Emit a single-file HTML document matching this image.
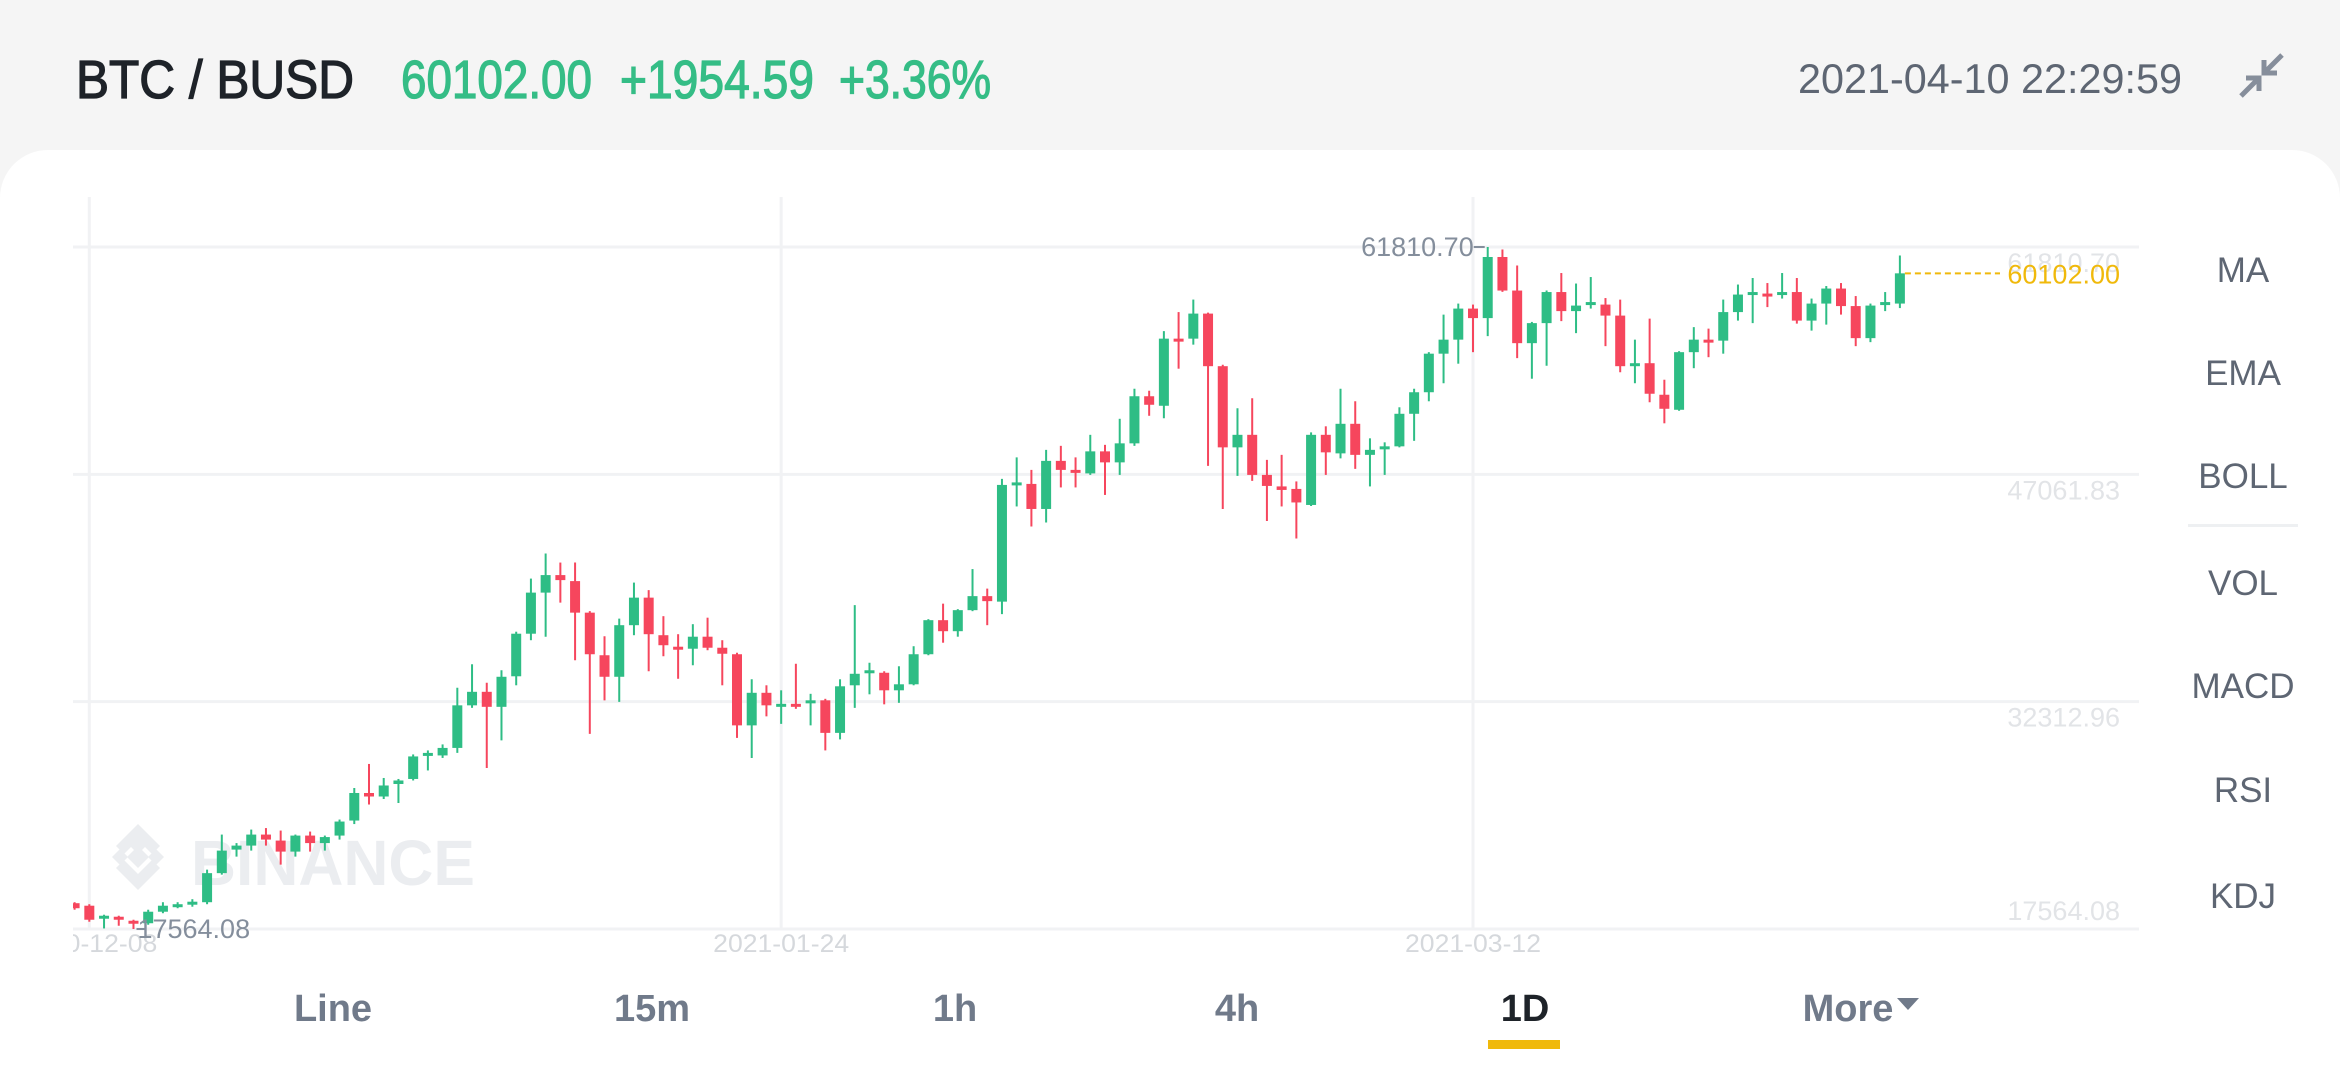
<!DOCTYPE html>
<html><head><meta charset="utf-8"><style>
html,body{margin:0;padding:0;background:#f5f5f5;overflow:hidden;}
svg{display:block;font-family:"Liberation Sans",Arial,sans-serif;}
</style></head><body>
<svg id="root" width="2340" height="1080" viewBox="0 0 2340 1080" xmlns="http://www.w3.org/2000/svg">
  <rect x="0" y="0" width="2340" height="1080" fill="#f5f5f5"/>
  <text x="76" y="98" font-size="54" fill="#1e2329" stroke="#1e2329" stroke-width="1.3" textLength="278" lengthAdjust="spacingAndGlyphs">BTC / BUSD</text>
  <text x="401" y="98" font-size="54" fill="#35bd86" stroke="#35bd86" stroke-width="1.3" textLength="191" lengthAdjust="spacingAndGlyphs">60102.00</text>
  <text x="620" y="98" font-size="54" fill="#35bd86" stroke="#35bd86" stroke-width="1.3" textLength="194" lengthAdjust="spacingAndGlyphs">+1954.59</text>
  <text x="839" y="98" font-size="54" fill="#35bd86" stroke="#35bd86" stroke-width="1.3" textLength="152" lengthAdjust="spacingAndGlyphs">+3.36%</text>
  <text x="1798" y="93" font-size="42" fill="#5e6673" textLength="384" lengthAdjust="spacingAndGlyphs">2021-04-10 22:29:59</text>
  <g stroke="#868e9b" stroke-width="5" fill="none">
    <line x1="2282" y1="55" x2="2266" y2="71"/>
    <polyline points="2264,60 2264,73 2277,73"/>
    <line x1="2241" y1="96" x2="2257" y2="80"/>
    <polyline points="2246,78 2259,78 2259,91"/>
  </g>
  <path d="M0,198 A48,48 0 0 1 48,150 L2292,150 A48,48 0 0 1 2340,198 L2340,1080 L0,1080 Z" fill="#ffffff"/>

  <g id="grid"></g>
  <g fill="#ebedf0">
    <polygon points="138,826 152,840 138,854 124,840" />
    <polygon points="138,846 149,857 138,868 127,857" />
    <polygon points="112,857 120,849 128,857 120,865" />
    <polygon points="148,857 156,849 164,857 156,865" />
    <polygon points="138,874 152,860 160,868 138,890 116,868 124,860" />
    <polygon points="138,824 160,846 152,854 138,840 124,854 116,846" />
    <text x="191" y="885" font-size="64" font-weight="bold" textLength="284" lengthAdjust="spacingAndGlyphs">BINANCE</text>
  </g>
  <g id="candles"></g>
  <g id="labels"></g>

  <g font-size="35" fill="#5e6673" text-anchor="middle">
    <text x="2243" y="282">MA</text>
    <text x="2243" y="385">EMA</text>
    <text x="2243" y="488">BOLL</text>
    <rect x="2188" y="524" width="110" height="3" fill="#eef0f2"/>
    <text x="2243" y="595">VOL</text>
    <text x="2243" y="698">MACD</text>
    <text x="2243" y="802">RSI</text>
    <text x="2243" y="908">KDJ</text>
  </g>

  <g font-size="38" font-weight="bold" fill="#707a8a" text-anchor="middle">
    <text x="333" y="1021">Line</text>
    <text x="652" y="1021">15m</text>
    <text x="955" y="1021">1h</text>
    <text x="1237" y="1021">4h</text>
    <text x="1525" y="1021" fill="#1e2329">1D</text>
    <text x="1848" y="1021">More</text>
    <polygon points="1897,998 1919,998 1908,1010" fill="#707a8a"/>
    <rect x="1488" y="1040" width="72" height="9" fill="#f0b90b"/>
  </g>
</svg>
<script>
const yTicks = [61810.70, 47061.83, 32312.96, 17564.08];
const xTickLabels = ['2020-12-08', '2021-01-24', '2021-03-12'];
const startDate = '2020-12-07';
const lastPrice = 60102.00;
const maxPrice = 61810.70;
const minPrice = 17564.08;
const opens = [19238,19075,18262,18360,18100,17938,18685,19010,19172,19302,
21188,22715,22975,23690,23300,22585,23625,23138,23625,24600,
26388,26160,26972,27298,28825,28825,29312,32075,32952,31978,
33960,36722,39388,40525,40135,38088,35325,33928,37275,39062,
36625,35878,35748,36528,35812,35390,30775,32888,32075,32172,
32238,32400,30288,33375,34188,34188,33050,33440,35390,37600,
36885,38250,39160,38802,46440,46440,44815,47935,47350,47122,
48552,47838,49072,52128,51510,55865,55865,57490,54078,48812,
49625,47025,46278,46115,45075,49625,48422,50340,48325,48748,
48878,50990,52388,54890,55800,57815,57198,61162,58985,55572,
56872,58888,57652,58140,58075,57360,54110,54272,52225,51250,
54988,55800,55735,57588,58790,58790,58725,58888,57035,58140,
59115,57978,55898,58140,58140];
const highs = [19302,19172,18490,18425,18165,18815,19302,19302,19498,21415,
23690,23138,24015,24112,23950,23690,23885,23625,24665,26712,
28272,27362,27298,28890,29150,29540,33212,34740,33538,34350,
36852,40298,41922,41338,41338,38185,36560,37698,40038,39550,
37860,36690,37340,37762,36300,35488,33765,33375,33050,34772,
32822,32498,33765,38575,34838,34285,34610,35910,37665,38672,
38315,40915,39648,46765,48162,47350,48650,48910,48162,49625,
48975,50665,52615,52485,56352,57588,58400,57550,54175,51348,
51998,48000,48325,46602,49788,50178,52615,51802,49398,49138,
51412,52615,54988,57425,58140,58075,61810.70,61650,60610,56950,
58985,60122,59440,59862,58498,58400,55800,57165,53200,55052,
56612,56515,58400,59375,59798,59472,60122,59798,58465,59278,
59472,58628,58140,58888,61260];
const lows = [18815,18035,17600,17775,17564.08,17840,18588,18912,19010,19172,
21090,22260,22650,22975,21740,22260,22585,22650,23365,24372,
25640,25998,25738,27200,27850,28662,28988,31912,28012,29800,
33375,36300,36528,38738,35000,30222,32400,32302,36625,34285,
35260,33798,34675,35650,33375,29962,28662,31360,30872,31848,
30775,29150,29865,31912,32790,32140,32238,33375,35325,36138,
36528,38185,37275,37990,44978,43678,43938,46212,46212,47025,
45725,47025,48910,50860,50698,53915,55475,47610,44815,46960,
46635,44035,44978,42898,45010,47025,48098,47415,46278,47025,
48812,49235,51802,52972,54240,54988,56028,58900,54598,53265,
54110,57002,56222,57815,55378,53688,52972,51738,50372,51185,
53948,54662,54890,57035,56872,57912,58465,56840,56385,56775,
57425,55378,55638,57652,57848];
const closes = [18912,18165,18425,18165,17938,18685,19075,19172,19335,21188,
22650,22975,23690,23365,22585,23625,23138,23528,24535,26388,
26160,26875,27200,28760,28988,29312,32075,32952,31978,33928,
36722,39388,40525,40200,38088,35390,33928,37275,39062,36690,
35975,35748,36528,35812,35422,30775,32888,32075,32172,32010,
32400,30288,33310,34122,34350,33050,33440,35390,37600,36885,
38250,39160,38835,46375,46538,44815,47935,47350,47188,48552,
47838,49072,52128,51575,55865,55735,57490,54078,48812,49625,
47025,46310,46050,45238,49625,48488,50340,48325,48650,48878,
50990,52388,54890,55800,57815,57198,61162,58985,55572,56872,
58888,57652,58010,58238,57360,54078,54272,52290,51315,54988,
55800,55638,57588,58725,58888,58660,58888,57035,58140,59115,
57978,55898,58010,58238,60102];

const NS = 'http://www.w3.org/2000/svg';
const plotLeft = 73, plotRight = 2139, plotTop = 247, plotBottom = 929, gridTop = 197;
const firstX = 74.6, step = 14.72;
function yScale(p) {
  const top = yTicks[0], bot = yTicks[yTicks.length - 1];
  return plotTop + (top - p) / (top - bot) * (plotBottom - plotTop);
}
function xScale(i) { return firstX + i * step; }
const dates = [];
(function () {
  const d = new Date(startDate + 'T00:00:00Z');
  for (let i = 0; i < closes.length; i++) {
    dates.push(d.toISOString().slice(0, 10));
    d.setUTCDate(d.getUTCDate() + 1);
  }
})();
function mk(tag, attrs, parent) {
  const e = document.createElementNS(NS, tag);
  for (const k in attrs) e.setAttribute(k, attrs[k]);
  parent.appendChild(e);
  return e;
}
const grid = document.getElementById('grid');
const svg = document.getElementById('root');
const defs = mk('defs', {}, svg);
const cp = mk('clipPath', {id: 'plotclip'}, defs);
mk('rect', {x: plotLeft, y: 150, width: plotRight - plotLeft, height: 830}, cp);

yTicks.forEach((v, i) => {
  const y = yScale(v);
  const l = mk('line', {x1: plotLeft, x2: plotRight, y1: y, y2: y, stroke: '#f1f2f4', 'stroke-width': 3}, grid);
  
  
});
xTickLabels.forEach((lab) => {
  const i = dates.indexOf(lab);
  const x = xScale(i);
  const l = mk('line', {x1: x, x2: x, y1: gridTop, y2: plotBottom, stroke: '#f1f2f4', 'stroke-width': 3}, grid);
  
  
});

const cg = document.getElementById('candles');
cg.setAttribute('clip-path', 'url(#plotclip)');
for (let i = 0; i < closes.length; i++) {
  const up = closes[i] >= opens[i];
  const col = up ? '#2ebd85' : '#f6465d';
  const x = xScale(i);
  const g = mk('g', {fill: col, stroke: col}, cg);
  
  
  mk('line', {x1: x, x2: x, y1: yScale(highs[i]), y2: yScale(lows[i]), 'stroke-width': 2}, g);
  const yt = yScale(Math.max(opens[i], closes[i]));
  const yb = yScale(Math.min(opens[i], closes[i]));
  mk('rect', {x: x - 5, y: yt, width: 10, height: Math.max(3, yb - yt), stroke: 'none'}, g);
}

const lg = document.getElementById('labels');
yTicks.forEach((v, i) => {
  const y = yScale(v);
  const last = i === yTicks.length - 1;
  const t = mk('text', {x: 2120, y: last ? y - 9 : y + 25, 'font-size': 27, fill: '#e2e4e7', 'text-anchor': 'end'}, lg);
  t.textContent = v.toFixed(2);
  
  
});
const xl = mk('g', {'clip-path': 'url(#plotclip)'}, lg);
xTickLabels.forEach((lab) => {
  const x = xScale(dates.indexOf(lab));
  const t = mk('text', {x: x, y: 952, 'font-size': 25, fill: '#d5d8dc', 'text-anchor': 'middle', textLength: 136, lengthAdjust: 'spacingAndGlyphs'}, xl);
  t.textContent = lab;
  
  
});

const lastI = closes.length - 1;
const ly = yScale(lastPrice);
const pl = mk('line', {x1: xScale(lastI) + 5, x2: 2000, y1: ly, y2: ly, stroke: '#f0b90b', 'stroke-width': 2, 'stroke-dasharray': '6,4'}, lg);


const pt = mk('text', {x: 2120, y: ly + 10, 'font-size': 27, fill: '#f0b90b', 'text-anchor': 'end'}, lg);
pt.textContent = lastPrice.toFixed(2);



const maxI = highs.indexOf(maxPrice);
const mxX = xScale(maxI), mxY = yScale(maxPrice);
const mxl = mk('line', {x1: mxX - 14, x2: mxX - 3, y1: mxY, y2: mxY, stroke: '#848e9c', 'stroke-width': 2}, lg);


const mxt = mk('text', {x: mxX - 14, y: mxY + 9, 'font-size': 27, fill: '#848e9c', 'text-anchor': 'end'}, lg);
mxt.textContent = maxPrice.toFixed(2);


const minI = lows.indexOf(minPrice);
const mnX = xScale(minI), mnY = yScale(minPrice);
const mnl = mk('line', {x1: mnX + 3, x2: mnX + 12, y1: mnY, y2: mnY, stroke: '#848e9c', 'stroke-width': 2}, lg);


const mnt = mk('text', {x: mnX + 4, y: mnY + 9, 'font-size': 27, fill: '#848e9c'}, lg);
mnt.textContent = minPrice.toFixed(2);


</script>
</body></html>
